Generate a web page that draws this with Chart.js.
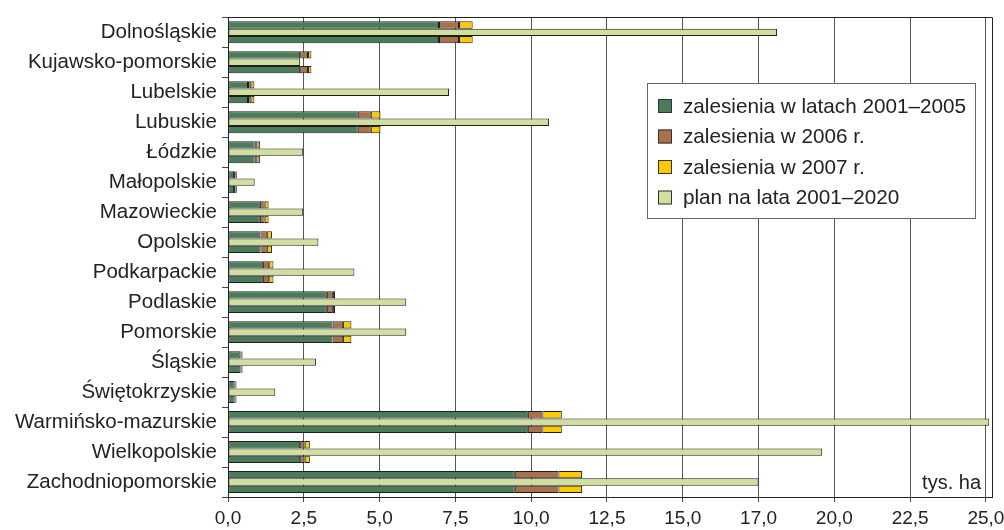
<!DOCTYPE html>
<html lang="pl">
<head>
<meta charset="UTF-8">
<title>Zalesienia według województw</title>
<script src="https://cdn.jsdelivr.net/npm/chart.js"></script>
<style>
  html, body { margin: 0; padding: 0; background: #fff; }
  #wrap { width: 1004px; height: 530px; }
</style>
</head>
<body>
<div id="wrap"><canvas id="chart" width="1004" height="530"></canvas></div>
<script>
// województwa
const regions = [
  'Dolnośląskie', 'Kujawsko-pomorskie', 'Lubelskie', 'Lubuskie', 'Łódzkie',
  'Małopolskie', 'Mazowieckie', 'Opolskie', 'Podkarpackie', 'Podlaskie',
  'Pomorskie', 'Śląskie', 'Świętokrzyskie', 'Warmińsko-mazurskie',
  'Wielkopolskie', 'Zachodniopomorskie'
];

// tys. ha
const zal2001_2005 = [6.96, 2.38, 0.66, 4.28, 0.88, 0.20, 1.05, 1.07, 1.15, 3.26, 3.45, 0.41, 0.22, 9.89, 2.38, 9.46];
const zal2006 = [0.66, 0.26, 0.11, 0.43, 0.09, 0.05, 0.16, 0.21, 0.21, 0.20, 0.34, 0.04, 0.03, 0.48, 0.15, 1.44];
const zal2007 = [0.45, 0.11, 0.10, 0.32, 0.09, 0.04, 0.13, 0.17, 0.14, 0.07, 0.28, 0.03, 0.03, 0.64, 0.17, 0.78];
const plan2001_2020 = [18.11, 2.38, 7.29, 10.59, 2.48, 0.88, 2.48, 2.98, 4.17, 5.88, 5.88, 2.90, 1.56, 25.11, 19.60, 17.50];

// etykiety osi X
const tickValues = [0, 2.5, 5, 7.5, 10, 12.5, 15, 17.5, 20, 22.5, 25];
const tickLabels = ['0,0', '2,5', '5,0', '7,5', '10,0', '12,5', '15,0', '17,0', '20,0', '22,5', '25,0'];

const GREEN = '#4a7c59';
const BROWN = '#a8714a';
const YELLOW = '#fdc800';
const LIGHT = '#d0de9e';
const EDGE = '#1e1e1e';
const FONT = '"Liberation Sans", Arial, sans-serif';

function bars(label, data, color, stack) {
  return {
    label: label,
    data: data,
    backgroundColor: color,
    borderColor: EDGE,
    borderWidth: 1,
    borderSkipped: false,
    stack: stack,
    barPercentage: 1,
    categoryPercentage: 0.73
  };
}

// legenda w ramce na obszarze wykresu + napis jednostki
const boxLegend = {
  id: 'boxLegend',
  afterDraw(chart) {
    const c = chart.ctx;
    const a = chart.chartArea;
    c.save();
    // górna krawędź ramki
    c.strokeStyle = '#222';
    c.lineWidth = 1;
    c.beginPath();
    c.moveTo(a.left, Math.round(a.top) + 0.5);
    c.lineTo(a.right, Math.round(a.top) + 0.5);
    c.stroke();

    const x = 647, y = 83, w = 328, h = 135;
    c.fillStyle = '#fff';
    c.fillRect(x, y, w, h);
    c.strokeStyle = '#666';
    c.strokeRect(x + 0.5, y + 0.5, w, h);

    c.font = '20.7px ' + FONT;
    c.textBaseline = 'middle';
    chart.data.datasets.slice(0, 4).forEach((ds, i) => {
      const cy = 106 + i * 30.5;
      c.fillStyle = ds.backgroundColor;
      c.fillRect(658, cy - 7, 14, 14);
      c.strokeStyle = '#333';
      c.strokeRect(658.5, cy - 6.5, 13, 13);
      c.fillStyle = '#222';
      c.fillText(ds.label, 683, cy + 1);
    });

    c.font = '20px ' + FONT;
    c.textAlign = 'right';
    c.textBaseline = 'alphabetic';
    c.fillText('tys. ha', 981, 489);
    c.restore();
  }
};

new Chart(document.getElementById('chart'), {
  type: 'bar',
  data: {
    labels: regions,
    datasets: [
      bars('zalesienia w latach 2001–2005', zal2001_2005, GREEN, 'a'),
      bars('zalesienia w 2006 r.', zal2006, BROWN, 'a'),
      bars('zalesienia w 2007 r.', zal2007, YELLOW, 'a'),
      bars('plan na lata 2001–2020', plan2001_2020, LIGHT, 'plan'),
      bars('zalesienia w latach 2001–2005', zal2001_2005, GREEN, 'b'),
      bars('zalesienia w 2006 r.', zal2006, BROWN, 'b'),
      bars('zalesienia w 2007 r.', zal2007, YELLOW, 'b')
    ]
  },
  options: {
    indexAxis: 'y',
    responsive: false,
    animation: false,
    layout: { padding: { top: 12, right: 12, left: 0, bottom: 0 } },
    plugins: {
      legend: { display: false },
      tooltip: { enabled: false }
    },
    scales: {
      x: {
        stacked: true,
        min: 0,
        max: 25.2,
        afterBuildTicks(scale) {
          scale.ticks = tickValues.concat([25.2]).map(v => ({ value: v }));
        },
        afterFit(scale) { scale.height = 33; },
        ticks: {
          autoSkip: false,
          maxRotation: 0,
          padding: 5,
          color: '#222',
          font: { family: FONT, size: 19 },
          callback: (v, i) => tickLabels[i] !== undefined ? tickLabels[i] : ''
        },
        grid: {
          color: ctx => (ctx.tick && ctx.tick.value > 25.1) ? '#222' : '#555',
          lineWidth: 1,
          tickLength: 5,
          tickColor: ctx => (ctx.tick && ctx.tick.value > 25.1) ? 'rgba(0,0,0,0)' : '#444'
        },
        border: { display: true, color: '#222', width: 1 }
      },
      y: {
        stacked: true,
        afterFit(scale) { scale.width = 228; },
        ticks: {
          autoSkip: false,
          padding: 5,
          color: '#222',
          font: { family: FONT, size: 20.5 }
        },
        grid: {
          drawOnChartArea: false,
          drawTicks: true,
          tickLength: 6,
          color: '#444',
          offset: true
        },
        border: { display: true, color: '#222', width: 1 }
      }
    }
  },
  plugins: [boxLegend]
});
</script>
</body>
</html>
